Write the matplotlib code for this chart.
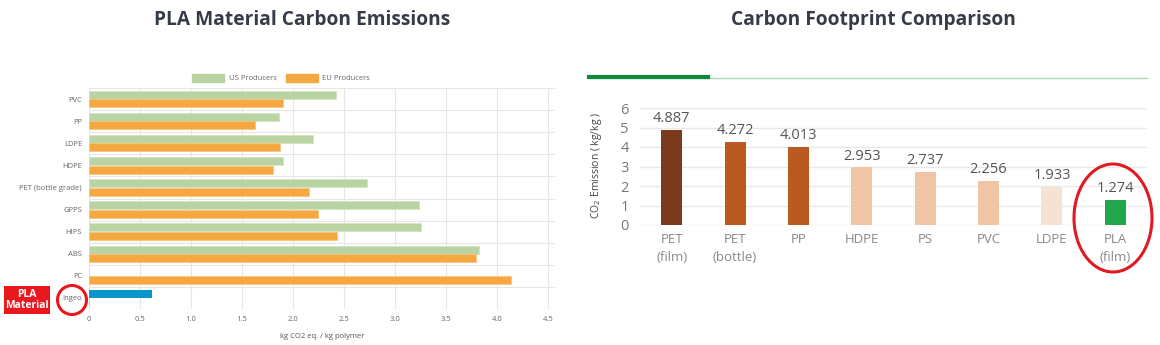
import matplotlib.pyplot as plt
import numpy as np
from matplotlib.lines import Line2D
from matplotlib.patches import Ellipse, Rectangle

# left chart data (kg CO2 eq. / kg polymer)
materials = ["PVC", "PP", "LDPE", "HDPE", "PET (bottle grade)", "GPPS", "HIPS", "ABS", "PC", "Ingeo"]
us_vals = [2.42, 1.86, 2.20, 1.90, 2.73, 3.24, 3.26, 3.82, 0, 0]
eu_vals = [1.90, 1.63, 1.87, 1.80, 2.16, 2.25, 2.43, 3.80, 4.14, 0]
ingeo_val = 0.62

# right chart data (kg/kg)
fp_labels = ["PET\n(film)", "PET\n(bottle)", "PP", "HDPE", "PS", "PVC", "LDPE", "PLA\n(film)"]
fp_vals = [4.887, 4.272, 4.013, 2.953, 2.737, 2.256, 1.933, 1.274]
fp_colors = ["#7b3a1d", "#ba5a22", "#ba5a22", "#f0c5a5", "#f0c5a5", "#f0c5a5", "#f7e1d0", "#22a64b"]

plt.rcParams['font.family'] = ['Open Sans', 'DejaVu Sans']

fig = plt.figure(figsize=(11.6, 3.45), dpi=100)
W, H = 1160, 345

def px_axes(x0, y0, x1, y1):
    return fig.add_axes([x0 / W, 1 - y1 / H, (x1 - x0) / W, (y1 - y0) / H])

# ---------- left: horizontal grouped bars ----------
ax = px_axes(89, 88, 555, 309)
y = np.arange(len(materials))
green, orange, blue = "#bad3a2", "#f5a842", "#0b95cd"
ax.barh(y - 0.19, us_vals, height=0.36, color=green, edgecolor="#d4e4c2", linewidth=0.6, zorder=3)
ax.barh(y + 0.19, eu_vals, height=0.36, color=orange, edgecolor="#f8c57d", linewidth=0.6, zorder=3)
ax.barh(y[-1] - 0.19, ingeo_val, height=0.36, color=blue, zorder=3)
ax.set_ylim(len(materials) - 0.5, -0.5)
ax.set_xlim(0, 4.57)
ax.set_xticks(np.arange(0, 4.51, 0.5))
ax.set_xticklabels(["0", "0.5", "1.0", "1.5", "2.0", "2.5", "3.0", "3.5", "4.0", "4.5"])
ax.set_yticks(y)
ax.set_yticklabels(materials)
ax.set_yticks(np.arange(-0.5, len(materials), 1), minor=True)
ax.tick_params(axis='both', which='major', length=0, labelsize=5.5, labelcolor="#666666", pad=5)
ax.tick_params(axis='y', which='minor', length=0)
ax.grid(axis='x', color="#e6e6e6", linewidth=0.8, zorder=0)
ax.grid(axis='y', which='minor', color="#e6e6e6", linewidth=0.8, zorder=0)
for s in ax.spines.values():
    s.set_visible(False)
ax.set_xlabel("kg CO2 eq. / kg polymer", fontsize=5.5, color="#555555", labelpad=7)
leg = fig.legend(handles=[Rectangle((0, 0), 1, 1, color=green), Rectangle((0, 0), 1, 1, color=orange)],
                 labels=["US Producers", "EU Producers"], ncol=2, loc="center",
                 bbox_to_anchor=(281 / W, 1 - 78 / H), frameon=False, fontsize=5.5,
                 handlelength=4.2, handleheight=1.2, columnspacing=1.2, handletextpad=0.6)
for t in leg.get_texts():
    t.set_color("#666666")

# PLA Material marker
fig.patches.append(Rectangle((4 / W, 1 - 314 / H), 46 / W, 28 / H, transform=fig.transFigure,
                             facecolor="#e8181e", edgecolor="none"))
fig.text(27 / W, 1 - 300 / H, "PLA\nMaterial", ha="center", va="center", color="white",
         fontsize=7.5, fontweight="bold", linespacing=1.0)
fig.patches.append(Ellipse((72 / W, 1 - 300 / H), 29 / W, 29 / H, transform=fig.transFigure,
                           facecolor="none", edgecolor="#e8181e", linewidth=2.2))

fig.text(302 / W, 1 - 20 / H, "PLA Material Carbon Emissions", ha="center", va="center",
         fontsize=13.8, fontweight="bold", color="#353b47")

# ---------- right: vertical bars ----------
ax2 = px_axes(640, 108, 1147, 225)
x = np.arange(len(fp_vals))
ax2.bar(x, fp_vals, width=0.33, color=fp_colors, zorder=3)
for xi, v in zip(x, fp_vals):
    ax2.text(xi, v + 0.2, f"{v:.3f}", ha="center", va="bottom", fontsize=10.5, color="#555555")
ax2.set_xlim(-0.5, len(fp_vals) - 0.5)
ax2.set_ylim(0, 6)
ax2.set_yticks(range(0, 7))
ax2.set_xticks(x)
ax2.set_xticklabels(fp_labels, linespacing=1.5)
ax2.tick_params(axis='y', length=0, labelsize=10.5, labelcolor="#777777", pad=8)
ax2.tick_params(axis='x', length=0, labelsize=9.5, labelcolor="#888888", pad=6)
ax2.grid(axis='y', color="#e8e8e8", linewidth=1.0, zorder=0)
for s in ax2.spines.values():
    s.set_visible(False)
fig.text(597 / W, 1 - 165 / H, "CO$_2$ Emission ( kg/kg )", rotation=90, ha="center", va="center",
         fontsize=7.5, color="#444444")

# highlight ring around PLA
fig.patches.append(Ellipse((1113 / W, 1 - 218 / H), 78 / W, 108 / H, transform=fig.transFigure,
                           facecolor="none", edgecolor="#e11a22", linewidth=2.2))

# green header rule
fig.add_artist(Line2D([589 / W, 1147 / W], [1 - 78 / H, 1 - 78 / H], color="#a8d9b4", linewidth=1.0))
fig.add_artist(Line2D([589 / W, 708 / W], [1 - 77 / H, 1 - 77 / H], color="#0f8a3c", linewidth=3.0))

fig.text(873 / W, 1 - 20 / H, "Carbon Footprint Comparison", ha="center", va="center",
         fontsize=13.8, fontweight="bold", color="#353b47")

fig.savefig("out.png", dpi=100)
